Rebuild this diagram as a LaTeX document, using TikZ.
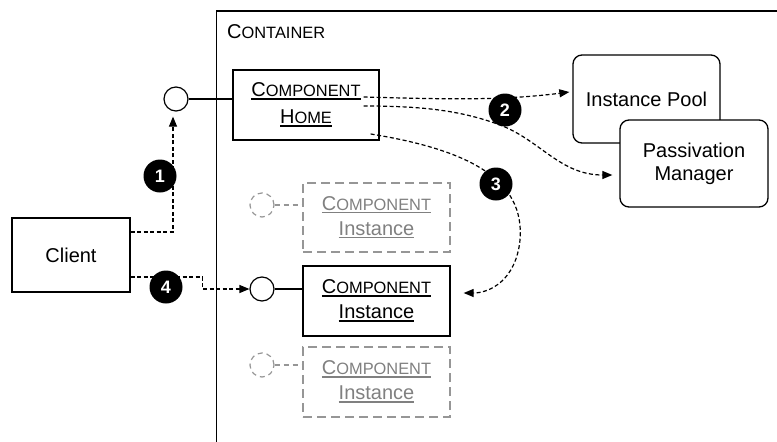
\documentclass[tikz,border=0pt]{standalone}
\usepackage{fontspec}
\setmainfont{Liberation Sans}
\usetikzlibrary{arrows.meta}

\definecolor{ghostline}{RGB}{150,150,150}
\definecolor{ghosttext}{RGB}{128,128,128}

% capital letter followed by faked small capitals
\newcommand{\capsm}[2]{#1{\fontsize{16.4}{16}\selectfont #2}}
% underline drawn as a rule just below the baseline, in the current colour
\newcommand{\ulin}[1]{\setbox0\hbox{#1}\leavevmode\rlap{\vrule width \wd0 height -1.2pt depth 3pt}\box0}

\begin{document}
\begin{tikzpicture}[x=1pt,y=-1pt,
  solidbox/.style={draw, line width=1.3pt, fill=white, align=center, inner sep=0pt,
    font=\fontsize{20}{25}\selectfont},
  roundbox/.style={solidbox, rounded corners=9pt},
  ghostbox/.style={draw=ghostline, dash pattern=on 9pt off 5pt, line width=1.2pt,
    text=ghosttext, align=center, inner sep=0pt, font=\fontsize{20}{25}\selectfont},
  iface/.style={circle, draw, line width=1.2pt, fill=white, minimum size=24pt, inner sep=0pt},
  ghostiface/.style={circle, draw=ghostline, dash pattern=on 5pt off 4pt, line width=1.2pt,
    minimum size=24pt, inner sep=0pt},
  badge/.style={circle, fill=black, text=white, minimum size=33pt, inner sep=0pt,
    font=\fontsize{18}{18}\selectfont\bfseries},
  flow/.style={dash pattern=on 4pt off 2.5pt, line width=1.2pt,
    -{Triangle[length=10pt,width=8pt]}},
  plainlink/.style={line width=1.2pt},
  ghostlink/.style={draw=ghostline, dash pattern=on 5pt off 4pt, line width=1.2pt}]

\useasboundingbox (0,0) rectangle (777,442);

% container outline and title
\draw[line width=1.3pt] (216.5,442) |- (777,11);
\node[anchor=base west, inner sep=0pt, font=\fontsize{20}{24}\selectfont] (ctitle) at (227,38)
  {\capsm{C}{ONTAINER}};

% boxes
\node[solidbox, minimum width=118pt, minimum height=74pt] (client) at (71,255) {Client};
\node[solidbox, minimum width=146pt, minimum height=70pt, font=\fontsize{20}{27}\selectfont]
  (home) at (306,105) {\ulin{\capsm{C}{OMPONENT}}\\\ulin{\capsm{H}{OME}}};
\node[roundbox, minimum width=147pt, minimum height=88pt] (pool) at (646.5,99) {Instance Pool};
\node[roundbox, minimum width=148pt, minimum height=87pt, font=\fontsize{20}{23}\selectfont]
  (pm) at (694,163.5) {Passivation\\Manager};

\node[ghostbox, minimum width=147pt, minimum height=69pt] (g1) at (376.5,217.5)
  {\ulin{\capsm{C}{OMPONENT}}\\\ulin{Instance}};
\node[solidbox, minimum width=147pt, minimum height=70pt] (inst) at (376.5,301)
  {\ulin{\capsm{C}{OMPONENT}}\\\ulin{Instance}};
\node[ghostbox, minimum width=147pt, minimum height=70pt] (g2) at (376.5,382)
  {\ulin{\capsm{C}{OMPONENT}}\\\ulin{Instance}};

% interfaces
\node[iface] (ifh) at (176,99) {};
\node[iface] (ifi) at (262,289) {};
\node[ghostiface] (gh1) at (262,205) {};
\node[ghostiface] (gh2) at (262,365) {};

\draw[plainlink] (ifh) -- (ifh -| home.west);
\draw[plainlink] (ifi) -- (ifi -| inst.west);
\draw[ghostlink] (gh1) -- (gh1 -| g1.west);
\draw[ghostlink] (gh2) -- (gh2 -| g2.west);

% interaction flows
\coordinate (h1) at ([xshift=-16pt,yshift=8pt]home.east);
\coordinate (h2) at ([xshift=-16pt,yshift=-1pt]home.east);
\coordinate (h3) at ([xshift=-9pt,yshift=-29pt]home.east);
\coordinate (poolin) at ([xshift=-3pt,yshift=7pt]pool.west);
\coordinate (pmin) at ([xshift=-7pt,yshift=-11.5pt]pm.west);
\coordinate (instin) at ([xshift=13pt,yshift=8pt]inst.east);

\draw[flow] ([yshift=23pt]client.east) -| ([xshift=-3pt,yshift=-5pt]ifh.south);
\draw[flow] ([yshift=-22pt]client.east) -- ++(72,0) |- (ifi.west);
\draw[flow] (h1) .. controls (440,99) and (500,101) .. (poolin);
\draw[flow] (h2) .. controls (420,106) and (460,110) .. (500,125)
  .. controls (540,140) and (560,175) .. (pmin);
\draw[flow] (h3) .. controls (470,150) and (525,180) .. (520,240)
  .. controls (516,280) and (490,293) .. (instin);

% step badges
\node[badge] (b1) at (160,176) {1};
\node[badge] (b2) at (505,110) {2};
\node[badge] (b3) at (496,184) {3};
\node[badge] (b4) at (166,287) {4};
\end{tikzpicture}
\end{document}
